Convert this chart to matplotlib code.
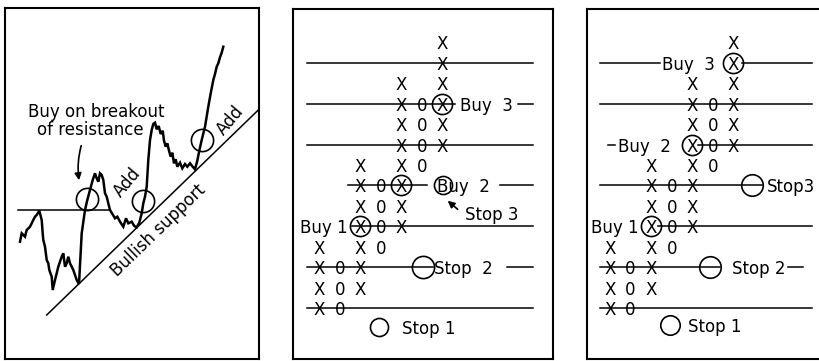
import matplotlib
matplotlib.use("Agg")
import matplotlib.pyplot as plt

plt.rcParams['font.family'] = ['DejaVu Sans']

W, H = 820, 361

# ---------------- Panel 1 data: price path (time, price) ----------------
price_t = [20.0, 21.7, 25.0, 26.7, 30.0, 31.7, 33.3, 35.0, 36.7, 39.3, 41.7, 42.7, 43.3, 45.0,
           46.7, 48.3, 49.3, 51.7, 52.7, 55.0, 56.7, 58.3, 61.7, 63.3, 65.0, 66.7, 68.3, 70.0,
           71.7, 73.3, 76.7, 79.0, 81.7, 85.0, 87.3, 90.0, 92.7, 95.0, 96.7, 98.3, 100.0, 101.7,
           103.3, 105.0, 106.7, 108.3, 110.0, 115.0, 117.3, 120.0, 123.3, 126.0, 128.3, 131.7,
           134.3, 136.7, 139.3, 141.7, 143.3, 145.0, 146.7, 148.3, 150.0, 151.7, 153.3, 155.0,
           156.7, 158.7, 160.7, 162.7, 164.0, 165.7, 167.3, 169.0, 170.7, 172.3, 174.0, 175.7,
           177.3, 180.0, 182.3, 185.0, 187.3, 190.0, 192.7, 195.0, 197.3, 199.3, 201.7, 205.0,
           208.3, 210.7, 213.3, 215.0, 216.7, 218.3, 220.0, 221.7, 223.3]
price_v = [119.3, 127.7, 124.3, 131.0, 134.3, 137.7, 141.0, 144.3, 146.0, 150.3, 141.0, 127.7, 121.0, 114.3,
           101.0, 97.7, 91.0, 84.3, 71.0, 81.0, 87.7, 94.3, 104.3, 107.7, 94.3, 97.7, 104.3, 97.7,
           94.3, 91.0, 81.0, 77.0, 127.7, 151.0, 161.0, 171.0, 181.0, 187.7, 182.7, 179.3, 187.7, 186.0,
           181.0, 167.7, 164.3, 157.7, 151.0, 142.7, 144.3, 139.3, 134.3, 142.7, 137.7, 139.3,
           135.0, 133.7, 138.3, 147.7, 157.7, 164.3, 174.3, 201.0, 221.0, 231.0, 237.0, 238.3,
           231.7, 235.0, 227.0, 230.3, 220.3, 214.3, 217.7, 210.3, 204.3, 208.3, 197.7, 201.7,
           194.3, 198.3, 192.7, 197.0, 194.3, 197.7, 194.3, 191.7, 200.3, 210.3, 221.0, 234.3,
           254.3, 267.7, 281.0, 287.0, 294.3, 297.7, 303.7, 308.3, 314.3]

resistance_level = 151.0
resistance_t = [18.3, 110.0]
support_t = [46.7, 258.3]
support_v = [46.0, 251.0]
entry_t = [87.4, 143.3, 201.7]
entry_v = [162.0, 160.5, 221.0]

# ---------------- Point & figure data (shared by panels 2 and 3) ----------------
pf_kind = ['X', '0', 'X', '0', 'X', '0', 'X']
pf_low = [0, 0, 1, 3, 4, 7, 8]
pf_high = [3, 2, 7, 6, 11, 10, 13]
grid_rows = [0, 2, 4, 6, 8, 10, 12]

# panel 2 signals (column, box)
p2_buy_col = [2, 4, 6]
p2_buy_row = [4, 6, 10]
p2_buy_labels = ['Buy 1', 'Buy  2', 'Buy  3']
p2_stop_col = [2.91, 5.04, 6.05]
p2_stop_row = [-0.9, 2, 6]
p2_stop_labels = ['Stop 1', 'Stop  2', 'Stop 3']

# panel 3 signals
p3_buy_col = [2, 4, 6]
p3_buy_row = [4, 8, 12]
p3_buy_labels = ['Buy 1', 'Buy  2', 'Buy  3']
p3_stop_col = [2.92, 4.87, 6.9]
p3_stop_row = [-0.82, 2, 6]
p3_stop_labels = ['Stop 1', 'Stop 2', 'Stop3']

fig = plt.figure(figsize=(W / 100, H / 100), dpi=100)
fig.patch.set_facecolor('white')


def add_ax(x0, y0, x1, y1):
    return fig.add_axes([x0 / W, 1 - y1 / H, (x1 - x0) / W, (y1 - y0) / H])


def style(ax):
    ax.set_xticks([])
    ax.set_yticks([])
    for s in ax.spines.values():
        s.set_linewidth(1.5)
        s.set_color('black')


FS = 12
LW = 1.1
CIRC = dict(mfc='none', mec='black', mew=1.2, ls='none', marker='o')

# ---------------- Panel 1 ----------------
ax1 = add_ax(5, 8, 259, 359)
style(ax1)
ax1.set_xlim(5, 259)
ax1.set_ylim(361 - 359, 361 - 8)
ax1.plot(price_t, price_v, color='black', lw=1.8, solid_joinstyle='miter')
ax1.plot(resistance_t, [resistance_level] * 2, color='black', lw=LW)
ax1.plot(support_t, support_v, color='black', lw=LW)
ax1.plot(entry_t, entry_v, ms=16, **CIRC)
ax1.text(28.3, 251, 'Buy on breakout', fontsize=FS, ha='left', va='center_baseline')
ax1.text(37.3, 233, 'of resistance', fontsize=FS, ha='left', va='center_baseline')
ax1.annotate('', xy=(79.5, 178), xytext=(82, 218),
             arrowprops=dict(arrowstyle='-|>', color='black', lw=1.2,
                             connectionstyle='arc3,rad=0.12', mutation_scale=10))
ax1.text(127.7, 179, 'Add', fontsize=FS, rotation=50, ha='center', va='center',
         rotation_mode='anchor')
ax1.text(230, 241, 'Add', fontsize=FS, rotation=50, ha='center', va='center',
         rotation_mode='anchor')
ax1.text(158.3, 131, 'Bullish support', fontsize=FS, rotation=44, ha='center', va='center',
         rotation_mode='anchor')


def draw_pf(ax):
    for c, (k, lo, hi) in enumerate(zip(pf_kind, pf_low, pf_high)):
        for r in range(lo, hi + 1):
            ax.text(c, r, k, fontsize=12, ha='center', va='center_baseline')


def hline(ax, r, a, b):
    ax.plot([a, b], [r, r], color='black', lw=LW)


# ---------------- Panel 2 ----------------
c0, cs, r0, rs = 319.3, 20.5, 308.3, 20.47
ax2 = add_ax(293, 9, 553, 359)
style(ax2)
ax2.set_xlim((293 - c0) / cs, (553 - c0) / cs)
ax2.set_ylim((r0 - 359) / rs, (r0 - 9) / rs)
L, R = -0.61, 10.44
hline(ax2, grid_rows[6], L, R)
hline(ax2, grid_rows[5], L, 6.6)
hline(ax2, grid_rows[5], 9.7, R)
hline(ax2, grid_rows[4], L, R)
hline(ax2, grid_rows[3], 1.41, 5.24)
hline(ax2, grid_rows[3], 8.8, R)
hline(ax2, grid_rows[2], 1.58, R)
hline(ax2, grid_rows[1], L, 5.55)
hline(ax2, grid_rows[1], 9.14, R)
hline(ax2, grid_rows[0], L, R)
draw_pf(ax2)
ax2.plot(p2_buy_col, p2_buy_row, ms=14.5, **CIRC)
ax2.plot(p2_stop_col[:1], p2_stop_row[:1], ms=13, **CIRC)
ax2.plot(p2_stop_col[1:2], p2_stop_row[1:2], ms=16, **CIRC)
ax2.plot(p2_stop_col[2:], p2_stop_row[2:], ms=13, **CIRC)
ax2.text(1.4, p2_buy_row[0], p2_buy_labels[0], fontsize=FS, ha='right', va='center_baseline')
ax2.text(5.73, p2_buy_row[1], p2_buy_labels[1], fontsize=FS, ha='left', va='center_baseline')
ax2.text(6.86, p2_buy_row[2], p2_buy_labels[2], fontsize=FS, ha='left', va='center_baseline')
ax2.text(4.02, p2_stop_row[0], p2_stop_labels[0], fontsize=FS, ha='left', va='center_baseline')
ax2.text(5.6, p2_stop_row[1], p2_stop_labels[1], fontsize=FS, ha='left', va='center_baseline')
ax2.text(7.11, 4.64, p2_stop_labels[2], fontsize=FS, ha='left', va='center_baseline')
ax2.annotate('', xy=(6.16, 5.34), xytext=(6.85, 4.75),
             arrowprops=dict(arrowstyle='-|>', color='black', lw=1.2, mutation_scale=10))

# ---------------- Panel 3 ----------------
c0, cs = 610.0, 20.55
ax3 = add_ax(587, 9, 847, 359)
style(ax3)
ax3.set_xlim((587 - c0) / cs, (847 - c0) / cs)
ax3.set_ylim((r0 - 359) / rs, (r0 - 9) / rs)
L, R = -0.49, 9.82
hline(ax3, grid_rows[6], L, 2.43)
hline(ax3, grid_rows[6], 6.4, R)
hline(ax3, grid_rows[5], L, R)
hline(ax3, grid_rows[4], -0.08, 0.24)
hline(ax3, grid_rows[4], 4.3, R)
hline(ax3, grid_rows[3], L, 7.4)
hline(ax3, grid_rows[2], 2.35, R)
hline(ax3, grid_rows[1], L, 5.35)
hline(ax3, grid_rows[1], 8.68, 9.41)
hline(ax3, grid_rows[0], L, R)
draw_pf(ax3)
ax3.plot(p3_buy_col, p3_buy_row, ms=14.5, **CIRC)
ax3.plot(p3_stop_col[:1], p3_stop_row[:1], ms=14, **CIRC)
ax3.plot(p3_stop_col[1:], p3_stop_row[1:], ms=15.5, **CIRC)
ax3.text(1.4, p3_buy_row[0], p3_buy_labels[0], fontsize=FS, ha='right', va='center_baseline')
ax3.text(0.4, p3_buy_row[1], p3_buy_labels[1], fontsize=FS, ha='left', va='center_baseline')
ax3.text(2.52, p3_buy_row[2], p3_buy_labels[2], fontsize=FS, ha='left', va='center_baseline')
ax3.text(3.81, p3_stop_row[0], p3_stop_labels[0], fontsize=FS, ha='left', va='center_baseline')
ax3.text(5.92, p3_stop_row[1], p3_stop_labels[1], fontsize=FS, ha='left', va='center_baseline')
ax3.text(7.65, p3_stop_row[2], p3_stop_labels[2], fontsize=FS, ha='left', va='center_baseline')

fig.savefig('out.png', dpi=100, facecolor='white')
